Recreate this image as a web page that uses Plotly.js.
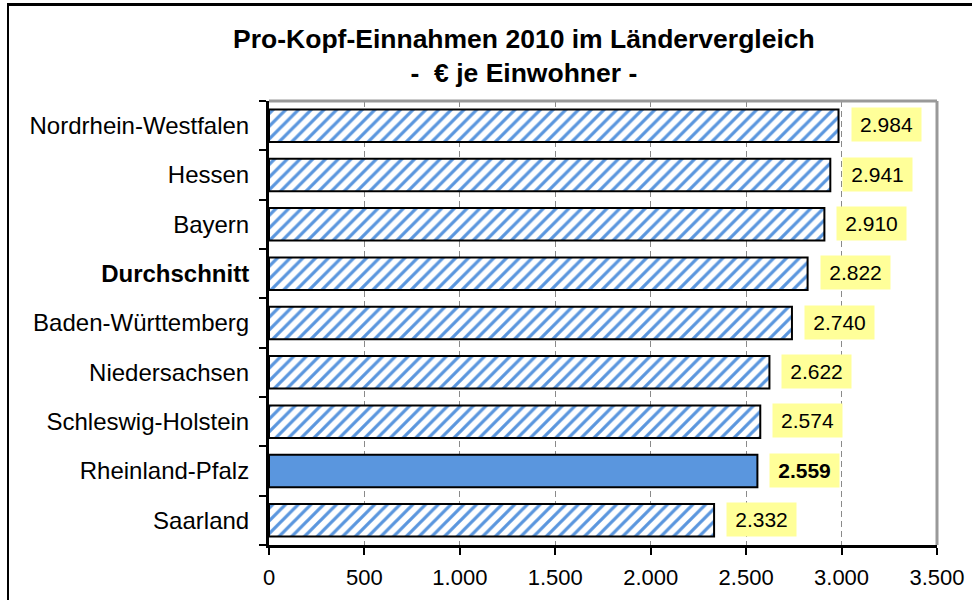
<!DOCTYPE html>
<html>
<head>
<meta charset="utf-8">
<script src="https://cdn.plot.ly/plotly-3.0.1.min.js"></script>
<style>
  body { margin: 0; padding: 0; background: #fff; overflow: hidden; }
  #chart { position: absolute; left: 0; top: 0; width: 972px; height: 600px; }
  #frame { position: absolute; left: 7px; top: 3px; width: 1000px; height: 700px;
           border-top: 3px solid #000; border-left: 2px solid #000; pointer-events: none; }
</style>
</head>
<body>
<div id="chart"></div>
<div id="frame"></div>
<script>
// Länder, top to bottom as in the chart
var laender = ['Nordrhein-Westfalen', 'Hessen', 'Bayern', 'Durchschnitt', 'Baden-Württemberg',
               'Niedersachsen', 'Schleswig-Holstein', 'Rheinland-Pfalz', 'Saarland'];
// Pro-Kopf-Einnahmen 2010, € je Einwohner
var einnahmen = [2984, 2941, 2910, 2822, 2740, 2622, 2574, 2559, 2332];
// which bar is highlighted (solid fill, bold label)
var highlight = 'Rheinland-Pfalz';
var boldCategory = 'Durchschnitt';

var blue = '#5a96de';

// german thousands separator
function fmt(v) {
    var s = String(Math.round(v));
    return s.replace(/\B(?=(\d{3})+(?!\d))/g, '.');
}

var idxHatch = laender.map((l, i) => i).filter(i => laender[i] !== highlight);
var idxSolid = laender.map((l, i) => i).filter(i => laender[i] === highlight);

var hatched = {
    type: 'bar',
    orientation: 'h',
    x: idxHatch.map(i => einnahmen[i]),
    y: idxHatch.map(i => laender[i]),
    width: 0.66,
    marker: {
        color: blue,
        line: { color: '#000', width: 2 },
        pattern: {
            shape: '/',
            fillmode: 'replace',
            fgcolor: blue,
            bgcolor: '#ffffff',
            size: 9,
            solidity: 0.36
        }
    },
    hoverinfo: 'none'
};

var solid = {
    type: 'bar',
    orientation: 'h',
    x: idxSolid.map(i => einnahmen[i]),
    y: idxSolid.map(i => laender[i]),
    width: 0.66,
    marker: { color: blue, line: { color: '#000', width: 2 } },
    hoverinfo: 'none'
};

// value labels in yellow boxes
var labels = laender.map((l, i) => ({
    x: einnahmen[i],
    y: l,
    xref: 'x', yref: 'y',
    text: l === highlight ? '<b>' + fmt(einnahmen[i]) + '</b>' : fmt(einnahmen[i]),
    showarrow: false,
    xanchor: 'left',
    xshift: 12,
    yshift: 1,
    bgcolor: '#ffff99',
    borderpad: 4,
    width: 61,
    height: 25,
    font: { family: 'Liberation Sans, Arial, sans-serif', size: 21, color: '#000' }
}));

var layout = {
    width: 972,
    height: 600,
    margin: { l: 269, r: 35, t: 101, b: 55 },
    paper_bgcolor: 'rgba(0,0,0,0)',
    plot_bgcolor: '#fff',
    separators: ',.',
    showlegend: false,
    barmode: 'overlay',
    font: { family: 'Liberation Sans, Arial, sans-serif', color: '#000' },
    title: {
        text: '<b>Pro-Kopf-Einnahmen 2010 im Ländervergleich<br>-&nbsp; € je Einwohner -</b>',
        font: { size: 26.5, color: '#000' },
        xref: 'container', x: 0.539, xanchor: 'center',
        yref: 'container', y: 0.92, yanchor: 'top'
    },
    xaxis: {
        range: [0, 3500],
        dtick: 500,
        tick0: 0,
        separatethousands: true,
        showgrid: true,
        gridcolor: '#8a8a8a',
        gridwidth: 1,
        griddash: '6px,4px',
        zeroline: false,
        showline: true,
        linecolor: '#000',
        linewidth: 3,
        ticks: 'outside',
        ticklen: 7,
        tickwidth: 2,
        tickcolor: '#000',
        tickfont: { size: 22 },
        ticklabelstandoff: 4,
        fixedrange: true
    },
    yaxis: {
        type: 'category',
        categoryorder: 'array',
        categoryarray: laender,
        autorange: 'reversed',
        tickvals: laender,
        ticktext: laender.map(l => l === boldCategory ? '<b>' + l + '</b>' : l),
        tickson: 'boundaries',
        showgrid: false,
        showline: true,
        linecolor: '#000',
        linewidth: 3,
        ticks: 'outside',
        ticklen: 7,
        tickwidth: 2,
        tickcolor: '#000',
        tickfont: { size: 24 },
        ticklabelstandoff: 12,
        fixedrange: true
    },
    annotations: labels,
    shapes: [
        // gray top and right border of the plot area
        { type: 'line', xref: 'paper', yref: 'paper', x0: 0, x1: 1, y0: 1, y1: 1,
          line: { color: '#999', width: 3 } },
        { type: 'line', xref: 'paper', yref: 'paper', x0: 1, x1: 1, y0: 0, y1: 1,
          line: { color: '#999', width: 3 } }
    ]
};

Plotly.newPlot('chart', [hatched, solid], layout, { displayModeBar: false });
</script>
</body>
</html>
